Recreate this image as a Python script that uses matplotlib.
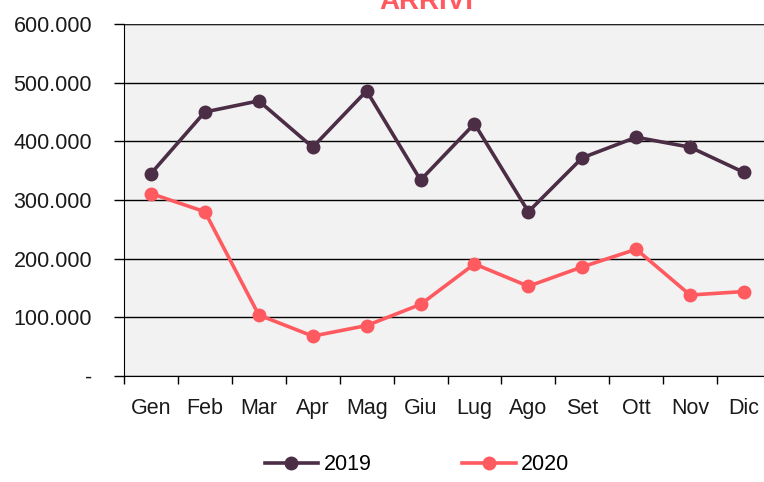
import numpy as np
import matplotlib.pyplot as plt
from matplotlib.ticker import FuncFormatter

# monthly arrivals
months = ['Gen', 'Feb', 'Mar', 'Apr', 'Mag', 'Giu', 'Lug', 'Ago', 'Set', 'Ott', 'Nov', 'Dic']
arrivi_2019 = [345000, 450000, 469000, 390000, 486000, 334000, 430000, 280000, 372000, 407000, 390000, 347000]
arrivi_2020 = [311000, 280000, 104000, 68000, 86000, 122000, 191000, 153000, 186000, 216000, 138000, 144000]
yticks = [0, 100000, 200000, 300000, 400000, 500000, 600000]

c19 = '#4b2d45'
c20 = '#ff5a5f'

plt.rcParams['font.family'] = ['Liberation Sans', 'DejaVu Sans']

fig = plt.figure(figsize=(7.64, 4.82), dpi=100)
ax = fig.add_axes([124 / 764, 1 - 376 / 482, 647 / 764, 352 / 482])
ax.set_facecolor('#f2f2f2')

x = np.arange(len(months))
ax.plot(x, arrivi_2019, color=c19, lw=2.6, marker='o', ms=9, label='2019', zorder=3)
ax.plot(x, arrivi_2020, color=c20, lw=2.6, marker='o', ms=9, label='2020', zorder=3)

ax.set_xlim(-0.5, len(months) - 0.5)
ax.set_ylim(0, 600000)
ax.set_yticks(yticks)


def fmt(v, pos):
    if v == 0:
        return '-'
    return '{:,.0f}'.format(v).replace(',', '.')


ax.yaxis.set_major_formatter(FuncFormatter(fmt))
ax.grid(axis='y', color='black', lw=1.0, zorder=1)

ax.set_xticks(x)
ax.set_xticklabels(months)
ax.set_xticks(np.arange(-0.5, len(months), 1), minor=True)
ax.tick_params(axis='x', which='major', length=0, pad=16, labelsize=15.5, labelcolor='#1a1a1a')
ax.tick_params(axis='x', which='minor', length=6, width=1, direction='out')
ax.tick_params(axis='y', length=7, width=1, direction='out', pad=16, labelsize=15.5, labelcolor='#1a1a1a')

for s in ['top', 'right']:
    ax.spines[s].set_visible(False)
ax.spines['left'].set_color('black')
ax.spines['bottom'].set_color('black')
ax.axhline(600000, color='#222222', lw=1.6, zorder=2)

# title sits mostly above the visible area in the reference
fig.text(426 / 764, 1 - 9 / 482, 'ARRIVI', color=c20, fontsize=20, fontweight='bold',
         ha='center', va='baseline')

fig.legend(loc='center', bbox_to_anchor=(417 / 764, 1 - 465 / 482), ncol=2, frameon=False,
           fontsize=15.5, handlelength=2.5, handletextpad=0.25, columnspacing=4.2)

fig.savefig('out.png', dpi=100)
